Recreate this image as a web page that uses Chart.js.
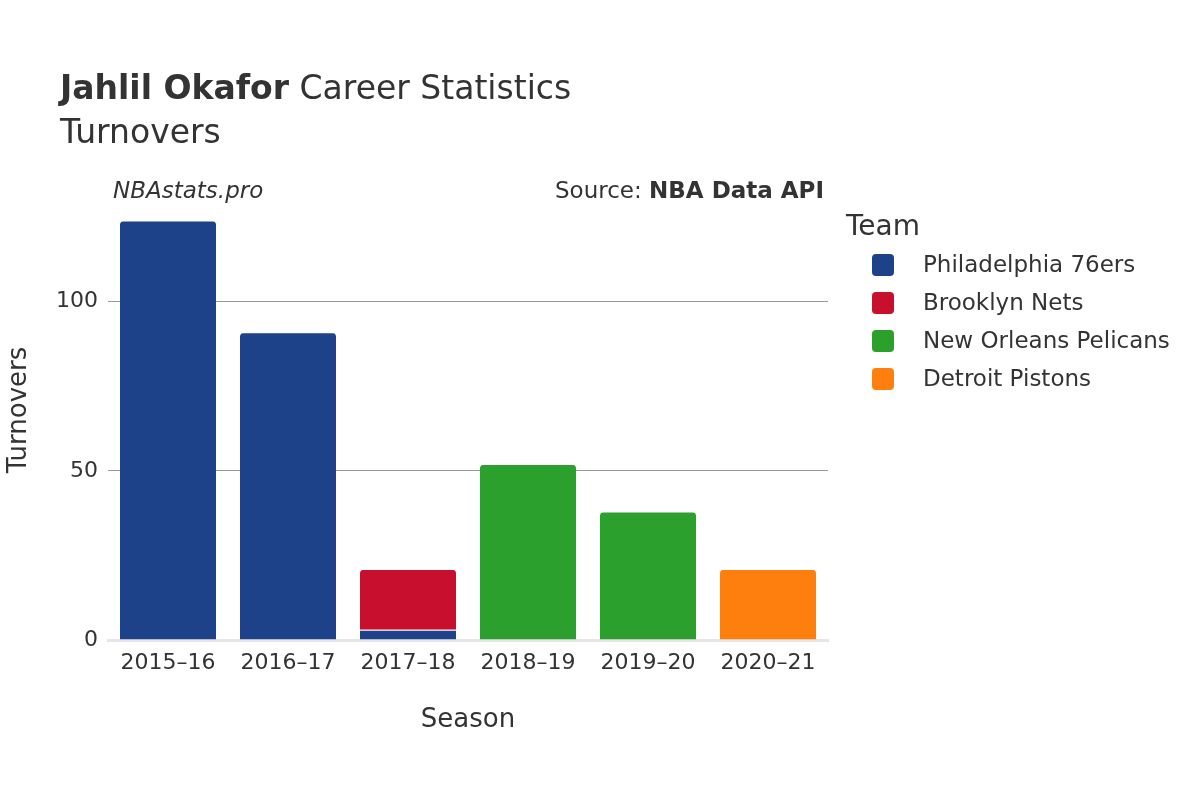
<!DOCTYPE html>
<html><head><meta charset="utf-8">
<script src="https://cdn.jsdelivr.net/npm/chart.js@4/dist/chart.umd.min.js"></script>
<style>
body{margin:0;background:#fff;font-family:"DejaVu Sans",sans-serif;color:#333}
#wrap{position:relative;width:1200px;height:800px}
canvas{position:absolute;left:0;top:0}
.t{position:absolute;white-space:nowrap;color:#333}
.leg{position:absolute;left:870px;font-size:23px;color:#333}
.sw{position:absolute;left:872px;width:22px;height:22px;border-radius:4px}
</style></head><body>
<div id="wrap">
<canvas id="c" width="1200" height="800"></canvas>
<div class="t" style="left:60px;top:68px;font-size:33px"><b>Jahlil Okafor</b> Career Statistics</div>
<div class="t" style="left:60px;top:112px;font-size:33px">Turnovers</div>
<div class="t" style="left:113px;top:177px;font-size:23px;font-style:italic">NBAstats.pro</div>
<div class="t" style="right:376px;top:177px;font-size:23px">Source: <b>NBA Data API</b></div>
<div class="t" style="left:846px;top:209px;font-size:28px">Team</div>
<div id="legend"></div>
</div>
<script>
const seasons=["2015–16","2016–17","2017–18","2018–19","2019–20","2020–21"];
const teams=["Philadelphia 76ers","Brooklyn Nets","New Orleans Pelicans","Detroit Pistons"];
const colors=["#1d428a","#c8102e","#2ca02c","#ff7f0e"];
const phi=[124,91,3,null,null,null];
const bkn=[null,null,18,null,null,null];
const nop=[null,null,null,52,38,null];
const det=[null,null,null,null,null,21];
const yTicks=[0,50,100];
const vals=[phi,bkn,nop,det];
let lg='';
teams.forEach((t,i)=>{const y=254+i*38;lg+=`<div class="sw" style="top:${y}px;background:${colors[i]}"></div><div class="leg" style="top:${y-3}px;left:923px">${t}</div>`;});
document.getElementById('legend').innerHTML=lg;
new Chart(document.getElementById('c'),{type:'bar',
data:{labels:seasons,datasets:teams.map((t,i)=>({label:t,data:vals[i],backgroundColor:colors[i],borderColor:'#fff',borderWidth:{top:1},borderSkipped:'bottom',borderRadius:4,barPercentage:0.8,categoryPercentage:1}))},
options:{responsive:false,animation:false,devicePixelRatio:1,
layout:{padding:{left:0,right:372,top:180,bottom:60}},
plugins:{legend:{display:false},tooltip:{enabled:false}},
scales:{
x:{stacked:true,grid:{display:false},border:{display:true,color:'#e6e6e6',width:3},
ticks:{color:'#333',font:{size:22,family:'DejaVu Sans'},padding:2},
title:{display:true,text:'Season',color:'#333',font:{size:26,family:'DejaVu Sans'},padding:{top:22}},
afterFit:s=>{s.height=100;}},
y:{stacked:true,min:0,max:136,afterBuildTicks:s=>{s.ticks=yTicks.map(v=>({value:v}));},
grid:{color:'#999',lineWidth:1,drawTicks:false},border:{display:false},
ticks:{color:'#333',font:{size:22,family:'DejaVu Sans'},padding:10},
title:{display:true,text:'Turnovers',color:'#333',font:{size:26,family:'DejaVu Sans'}},
afterFit:s=>{s.width=108;}}}}});
</script></body></html>
